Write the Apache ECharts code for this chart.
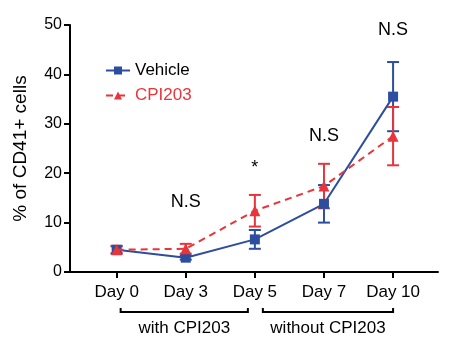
<!DOCTYPE html>
<html><head><meta charset="utf-8">
<script src="https://cdn.jsdelivr.net/npm/echarts@6/dist/echarts.min.js"></script>
<style>html,body{margin:0;padding:0;background:#fff}#c{width:460px;height:349px}</style>
</head><body><div id="c"></div>
<script>
var categories = ['Day 0','Day 3','Day 5','Day 7','Day 10'];
var vehicleMean = [4.5, 2.9, 6.6, 13.8, 35.5];
var vehicleErr  = [0.7, 0.4, 1.9, 3.8, 7.0];
var cpiMean = [4.5, 4.7, 12.4, 17.4, 27.5];
var cpiErr  = [0.8, 1.0, 3.2, 4.5, 5.9];
var yTicks = [0, 10, 20, 30, 40, 50];
var annoText = ['N.S', '*', 'N.S', 'N.S'];
var annoX = [1, 2, 3, 4];
var annoY = [14.2, 21.0, 27.5, 49.0];
var bracketText = ['with CPI203', 'without CPI203'];

var FONT = '"Liberation Sans", Arial, Helvetica, sans-serif';
var BLUE = '#2d4d9e', RED = '#e8343a';
var idx = categories.map(function(_, i){ return i; });

function pts(m){ return m.map(function(v,i){ return [i, v]; }); }
function errs(m,e){ return m.map(function(v,i){ return [i, v - e[i], v + e[i]]; }); }
function errSeries(name, data, color){
  return {
    type: 'custom', name: name, data: data, z: 3, silent: true,
    renderItem: function(params, api){
      var x = api.value(0), lo = api.value(1), hi = api.value(2);
      var p1 = api.coord([x, lo]), p2 = api.coord([x, hi]);
      var w = 6;
      var st = {stroke: color, lineWidth: 2};
      return {type: 'group', children: [
        {type:'line', shape:{x1:p1[0],y1:p1[1],x2:p2[0],y2:p2[1]}, style: st},
        {type:'line', shape:{x1:p1[0]-w,y1:p1[1],x2:p1[0]+w,y2:p1[1]}, style: st},
        {type:'line', shape:{x1:p2[0]-w,y1:p2[1],x2:p2[0]+w,y2:p2[1]}, style: st}
      ]};
    }
  };
}

var chart = echarts.init(document.getElementById('c'));
chart.setOption({
  animation: false,
  backgroundColor: '#fff',
  textStyle: {fontFamily: FONT},
  grid: {left: 70, right: 22, top: 25, bottom: 77},
  legend: {
    orient: 'vertical', left: 100, top: 57, itemWidth: 24, itemHeight: 10, itemGap: 8,
    textStyle: {fontSize: 17, fontFamily: FONT},
    data: [
      {name: 'Vehicle', textStyle: {color: '#000'}},
      {name: 'CPI203', textStyle: {color: RED}}
    ]
  },
  xAxis: {
    type: 'value', min: -0.675, max: 4.65,
    splitLine: {show: false},
    axisLine: {show: true, onZero: false, lineStyle: {color: '#000', width: 2}},
    axisTick: {show: true, length: 6, lineStyle: {color: '#000', width: 2}, customValues: idx},
    axisLabel: {fontSize: 17, color: '#000', margin: 12, fontFamily: FONT, customValues: idx,
      formatter: function(v){ return categories[Math.round(v)]; }}
  },
  yAxis: {
    type: 'value', min: 0, max: 50, interval: 10,
    name: '% of CD41+ cells', nameLocation: 'middle', nameGap: 40, nameRotate: 90,
    nameTextStyle: {fontSize: 19, color: '#000', fontFamily: FONT},
    splitLine: {show: false},
    axisLine: {show: true, onZero: false, lineStyle: {color: '#000', width: 2}},
    axisTick: {show: true, length: 6, lineStyle: {color: '#000', width: 2}, customValues: yTicks},
    axisLabel: {fontSize: 16, color: '#000', margin: 8, fontFamily: FONT, customValues: yTicks}
  },
  series: [
    errSeries('VehicleErr', errs(vehicleMean, vehicleErr), BLUE),
    {
      type: 'line', name: 'Vehicle', data: pts(vehicleMean), z: 4,
      symbol: 'rect', symbolSize: 10, itemStyle: {color: BLUE},
      lineStyle: {color: BLUE, width: 2}
    },
    errSeries('CPIErr', errs(cpiMean, cpiErr), RED),
    {
      type: 'line', name: 'CPI203', data: pts(cpiMean), z: 5,
      symbol: 'triangle', symbolSize: 11, itemStyle: {color: RED},
      lineStyle: {color: RED, width: 2, type: [7, 5]}
    },
    {
      type: 'scatter', name: 'anno', symbolSize: 0, silent: true, z: 6,
      itemStyle: {opacity: 1},
      data: annoX.map(function(x,i){ return {value: [x, annoY[i]], name: annoText[i]}; }),
      label: {show: true, position: 'inside', color: '#000', fontSize: 18, fontFamily: FONT,
        textBorderWidth: 0, formatter: function(p){ return p.name; }}
    }
  ]
});

// bracket annotations below the axis, positioned from axis values
var yB = 312, tickH = 4;
function px(v){ return chart.convertToPixel({xAxisIndex: 0}, v); }
var b1a = px(0) + 4, b1b = px(2) - 7, b2a = px(2) + 8, b2b = px(4);
function bracket(a, b){
  return {type: 'polyline', shape: {points: [[a, yB - tickH], [a, yB], [b, yB], [b, yB - tickH]]},
    style: {stroke: '#000', lineWidth: 2, fill: null}};
}
chart.setOption({graphic: [
  bracket(b1a, b1b), bracket(b2a, b2b),
  {type: 'text', x: (b1a + b1b) / 2, y: 328, style: {text: bracketText[0], font: '17px ' + FONT, fill: '#000', align: 'center', verticalAlign: 'middle'}},
  {type: 'text', x: (b2a + b2b) / 2, y: 328, style: {text: bracketText[1], font: '17px ' + FONT, fill: '#000', align: 'center', verticalAlign: 'middle'}}
]});
</script></body></html>
